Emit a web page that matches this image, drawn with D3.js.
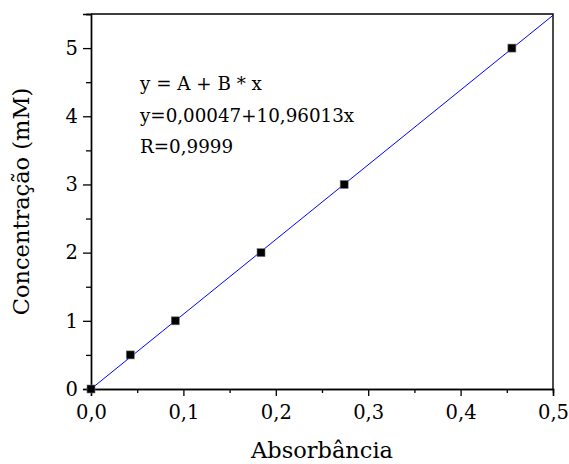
<!DOCTYPE html>
<html>
<head>
<meta charset="utf-8">
<script src="https://cdn.jsdelivr.net/npm/d3@7"></script>
<style>
  body { margin: 0; background: #fff; }
  svg { display: block; font-family: 'DejaVu Serif', serif; }
</style>
</head>
<body>
<svg></svg>
<script>
'use strict';
// Data
var absorbance = [0, 0.0425, 0.0912, 0.184, 0.274, 0.4555];
var concentration = [0, 0.5, 1, 2, 3, 5];
var xTicks = [0, 0.1, 0.2, 0.3, 0.4, 0.5];
var xMinorTicks = [0.05, 0.15, 0.25, 0.35, 0.45];
var yTicks = [0, 1, 2, 3, 4, 5];
var yMinorTicks = [0.5, 1.5, 2.5, 3.5, 4.5, 5.5];
// linear fit y = A + B * x
var fitA = 0.00047;
var fitB = 10.96013;
var fitRange = [0, 0.5];
var equationLines = ['y = A + B * x', 'y=0,00047+10,96013x', 'R=0,9999'];

var margin = { top: 14, right: 16, bottom: 75, left: 91 };
var canvasWidth = 569;
var canvasHeight = 464;
var width = canvasWidth - margin.left - margin.right;
var height = canvasHeight - margin.top - margin.bottom;

var svg = d3.select('svg')
  .attr('width', canvasWidth)
  .attr('height', canvasHeight);
var graphArea = svg.append('g')
  .attr('transform', 'translate(' + margin.left + ',' + margin.top + ')');

var xScale = d3.scaleLinear().domain([0, 0.5]).range([0, width]);
var yScale = d3.scaleLinear().domain([0, 5.5]).range([height, 0]);

var commaFmt = function(f) {
  return function(d) { return d3.format(f)(d).replace('.', ','); };
};

// frame (top and right)
graphArea.append('path')
  .attr('d', 'M0,0H' + width + 'V' + height)
  .attr('fill', 'none')
  .attr('stroke', '#000')
  .attr('stroke-width', 1.4);

// minor ticks
graphArea.append('g')
  .attr('class', 'x minor')
  .attr('transform', 'translate(0,' + height + ')')
  .call(d3.axisBottom(xScale).tickValues(xMinorTicks).tickSize(4).tickFormat(''));
graphArea.append('g')
  .attr('class', 'y minor')
  .call(d3.axisLeft(yScale).tickValues(yMinorTicks).tickSize(5).tickFormat(''));

// major axes
graphArea.append('g')
  .attr('class', 'x axis')
  .attr('transform', 'translate(0,' + height + ')')
  .call(d3.axisBottom(xScale).tickValues(xTicks).tickSize(7).tickPadding(9).tickFormat(commaFmt('.1f')));
graphArea.append('g')
  .attr('class', 'y axis')
  .call(d3.axisLeft(yScale).tickValues(yTicks).tickSize(8).tickPadding(5).tickFormat(commaFmt('d')));

graphArea.selectAll('.domain').attr('stroke-width', 1.4);
graphArea.selectAll('.tick line').attr('stroke-width', 1.3);
graphArea.selectAll('.axis .tick text')
  .style('font-family', "'DejaVu Serif', serif")
  .style('font-size', '19.5px')
  .attr('fill', '#000');

// fit line
graphArea.append('line')
  .attr('x1', xScale(fitRange[0]))
  .attr('y1', yScale(fitA + fitB * fitRange[0]))
  .attr('x2', xScale(fitRange[1]))
  .attr('y2', yScale(fitA + fitB * fitRange[1]))
  .attr('stroke', '#0000ff')
  .attr('stroke-width', 1);

// points
graphArea.selectAll('rect.pt').data(absorbance)
  .enter().append('rect')
  .attr('class', 'pt')
  .attr('x', function(d) { return xScale(d) - 4; })
  .attr('y', function(d, i) { return yScale(concentration[i]) - 4; })
  .attr('width', 8)
  .attr('height', 8)
  .attr('fill', '#000')
  .attr('stroke', '#777')
  .attr('stroke-width', 0.6);

// equation text
graphArea.selectAll('text.eq').data(equationLines)
  .enter().append('text')
  .attr('class', 'eq')
  .attr('x', 49)
  .attr('y', function(d, i) { return 76 + i * 31.5; })
  .style('font-size', '18.3px')
  .attr('fill', '#000')
  .text(function(d) { return d; });

// axis titles
svg.append('text')
  .attr('x', margin.left + width / 2)
  .attr('y', 458)
  .attr('text-anchor', 'middle')
  .style('font-size', '22.5px')
  .attr('fill', '#000')
  .text('Absorbância');

svg.append('text')
  .attr('transform', 'translate(29,' + (margin.top + height / 2) + ') rotate(-90)')
  .attr('text-anchor', 'middle')
  .style('font-size', '22.5px')
  .attr('fill', '#000')
  .text('Concentração (mM)');
</script>
</body>
</html>
